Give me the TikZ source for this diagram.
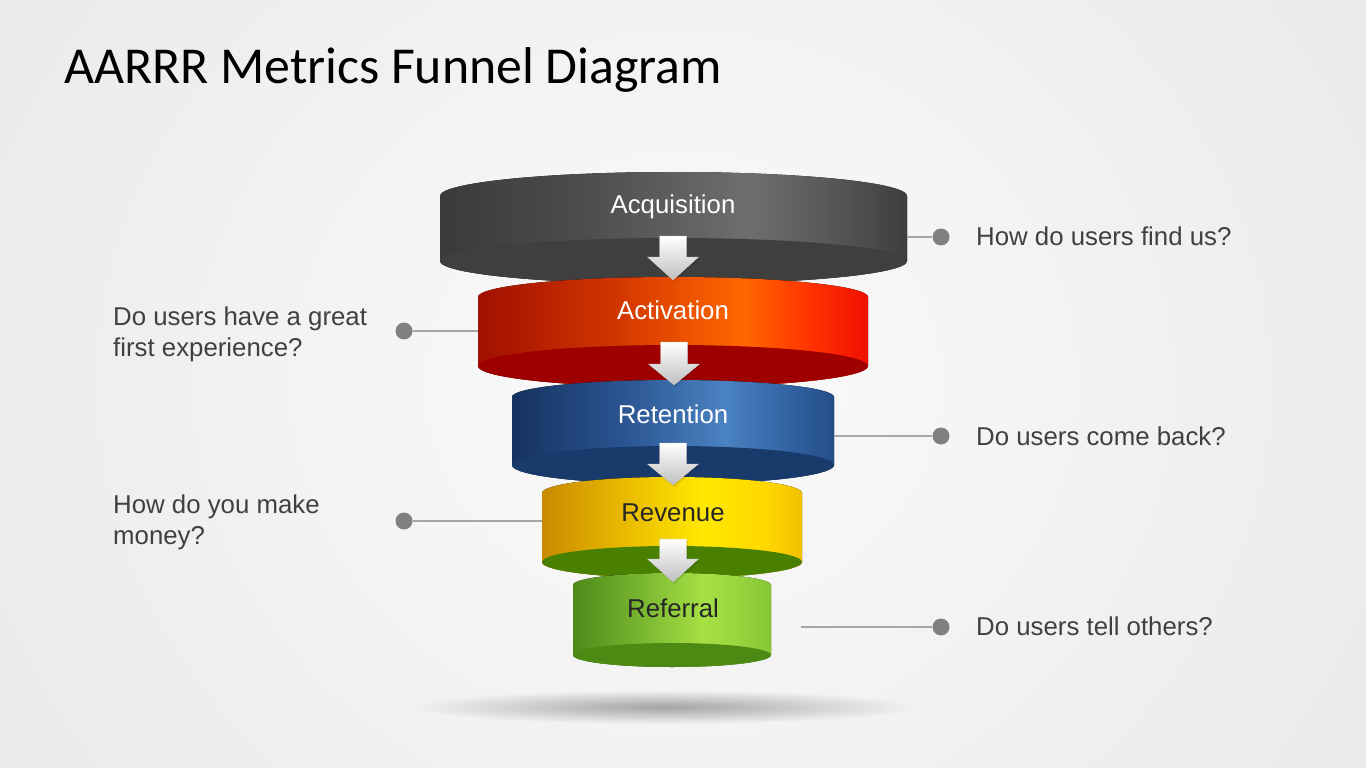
\documentclass[tikz,border=0pt]{standalone}
\usepackage{fontspec}
\setmainfont{Liberation Sans}
\newfontfamily\titlefont{Carlito}
\usetikzlibrary{fadings}
\tikzfading[name=softshadow, inner color=transparent!0, outer color=transparent!100]
\definecolor{bgout}{HTML}{E6E6E6}
\definecolor{bgin}{HTML}{FBFBFB}
\definecolor{txt}{HTML}{404040}
\definecolor{dotc}{HTML}{808080}
\definecolor{linec}{HTML}{A6A6A6}
% acquisition
\definecolor{acqA}{HTML}{3A3A3A}
\definecolor{acqB}{HTML}{4C4C4C}
\definecolor{acqC}{HTML}{6E6E6E}
\definecolor{acqD}{HTML}{5A5A5A}
\definecolor{acqE}{HTML}{3E3E3E}
\definecolor{acqF}{HTML}{3F3F3F}
% activation
\definecolor{actA}{HTML}{A01000}
\definecolor{actB}{HTML}{D03400}
\definecolor{actC}{HTML}{FF6800}
\definecolor{actD}{HTML}{FF3000}
\definecolor{actE}{HTML}{F01000}
\definecolor{actF}{HTML}{9E0000}
% retention
\definecolor{retA}{HTML}{15325F}
\definecolor{retB}{HTML}{2A5490}
\definecolor{retC}{HTML}{4A82C2}
\definecolor{retD}{HTML}{3466A6}
\definecolor{retE}{HTML}{234E88}
\definecolor{retF}{HTML}{193B6B}
% revenue
\definecolor{revA}{HTML}{C88A00}
\definecolor{revB}{HTML}{E8B800}
\definecolor{revC}{HTML}{FFE800}
\definecolor{revD}{HTML}{FFD800}
\definecolor{revE}{HTML}{F2C000}
\definecolor{revF}{HTML}{4A8000}
% referral
\definecolor{refA}{HTML}{4E8A1A}
\definecolor{refB}{HTML}{78B630}
\definecolor{refC}{HTML}{A6E044}
\definecolor{refD}{HTML}{96D43E}
\definecolor{refE}{HTML}{86C634}
\definecolor{refF}{HTML}{4C8A14}
\pgfdeclarehorizontalshading{acqshade}{100bp}{color(0bp)=(acqA); color(25bp)=(acqA); color(40bp)=(acqB); color(58bp)=(acqC); color(66bp)=(acqD); color(75bp)=(acqE); color(100bp)=(acqE)}
\pgfdeclarehorizontalshading{actshade}{100bp}{color(0bp)=(actA); color(25bp)=(actA); color(42bp)=(actB); color(59bp)=(actC); color(68bp)=(actD); color(75bp)=(actE); color(100bp)=(actE)}
\pgfdeclarehorizontalshading{retshade}{100bp}{color(0bp)=(retA); color(25bp)=(retA); color(42bp)=(retB); color(58bp)=(retC); color(67bp)=(retD); color(75bp)=(retE); color(100bp)=(retE)}
\pgfdeclarehorizontalshading{revshade}{100bp}{color(0bp)=(revA); color(25bp)=(revA); color(40bp)=(revB); color(56bp)=(revC); color(68bp)=(revD); color(75bp)=(revE); color(100bp)=(revE)}
\pgfdeclarehorizontalshading{refshade}{100bp}{color(0bp)=(refA); color(25bp)=(refA); color(42bp)=(refB); color(58bp)=(refC); color(67bp)=(refD); color(75bp)=(refE); color(100bp)=(refE)}
% #1 cx, #2 rx, #3 top centre y, #4 top ry, #5 bottom centre y, #6 bottom ry, #7 shading, #8 bottom colour
\newcommand\fband[8]{%
  \fill[shading=#7,shading angle=0] (#1-#2,#3) arc[start angle=180,end angle=360,x radius=#2,y radius=#4]
     -- (#1+#2,#5) arc[start angle=0,end angle=180,x radius=#2,y radius=#6] -- cycle;
  \fill[#8] (#1,#5) ellipse[x radius=#2,y radius=#6];
}
% #1 cx, #2 shaft top, #3 head start, #4 tip
\newcommand\farrow[4]{%
  \fill[black,opacity=0.12] (#1-12.5,#2+2) -- (#1+14.5,#2+2) -- (#1+14.5,#3+2) -- (#1+26.5,#3+2) -- (#1+1,#4+2) -- (#1-24.5,#3+2) -- (#1-12.5,#3+2) -- cycle;
  \path[downarrow] (#1-13.5,#2) -- (#1+13.5,#2) -- (#1+13.5,#3) -- (#1+25.5,#3) -- (#1,#4) -- (#1-25.5,#3) -- (#1-13.5,#3) -- cycle;
}
\tikzset{
  downarrow/.style={top color=white, bottom color=black!25, draw=white!80!black, line width=0.4pt},
  bandlabel/.style={font=\fontsize{25.8}{31}\selectfont, anchor=base, inner sep=0pt},
  sidelabel/.style={font=\fontsize{25.8}{30.5}\selectfont, text=txt, inner sep=0pt, align=left},
  dot/.style={circle, fill=dotc, minimum size=17pt, inner sep=0pt},
  conn/.style={draw=linec, line width=1.2pt},
}
\begin{document}
\begin{tikzpicture}[x=1pt,y=-1pt]
\useasboundingbox (0,0) rectangle (1366,768);
% background
\fill[inner color=bgin, outer color=bgout] (-300,-500) rectangle (1666,1268);
% floor shadow
\fill[black, opacity=0.32, path fading=softshadow] (664,707) ellipse[x radius=250, y radius=17];
% title
\node[anchor=base west, inner sep=0pt, font=\titlefont\fontsize{51.8}{60}\selectfont, text=black] (title) at (64,84) {AARRR Metrics Funnel Diagram};
% bands
\fband{673.5}{233.5}{196}{24}{261}{23}{acqshade}{acqF}
\fband{673}{195}{297}{20}{366}{21}{actshade}{actF}
\fband{673}{161}{397}{17}{465}{19}{retshade}{retF}
\fband{672}{130}{493}{16}{562}{16}{revshade}{revF}
\fband{672}{99}{585}{12}{655}{12}{refshade}{refF}
% arrows
\farrow{673}{236}{257}{280}
\farrow{674}{342}{364}{385}
\farrow{673}{443}{464}{485}
\farrow{673}{539}{559}{582}
% band labels
\node[bandlabel, text=white] (acq) at (673,213) {Acquisition};
\node[bandlabel, text=white] (act) at (673,319) {Activation};
\node[bandlabel, text=white] (ret) at (673,423) {Retention};
\node[bandlabel, text=black!85] (rev) at (673,521) {Revenue};
\node[bandlabel, text=black!85] (ref) at (673,617) {Referral};
% connector end points on the bands
\coordinate (acqR) at (907,237);
\coordinate (actL) at (478,331);
\coordinate (retR) at (834,436);
\coordinate (revL) at (542,521);
\coordinate (refR) at (801,627);
% dots
\node[dot] (d1) at (941,237) {};
\node[dot] (d2) at (404,331) {};
\node[dot] (d3) at (941,436) {};
\node[dot] (d4) at (404,521) {};
\node[dot] (d5) at (941,627) {};
\draw[conn] (acqR) -- (d1);
\draw[conn] (actL) -- (d2);
\draw[conn] (retR) -- (d3);
\draw[conn] (revL) -- (d4);
\draw[conn] (refR) -- (d5);
% side labels
\node[sidelabel, anchor=base west] (q1) at (976,245) {How do users find us?};
\node[sidelabel, anchor=north west] (q2) at (113,307) {Do users have a great\\first experience?};
\node[sidelabel, anchor=base west] (q3) at (976,445) {Do users come back?};
\node[sidelabel, anchor=north west] (q4) at (113,495) {How do you make\\money?};
\node[sidelabel, anchor=base west] (q5) at (976,635) {Do users tell others?};
\end{tikzpicture}
\end{document}
